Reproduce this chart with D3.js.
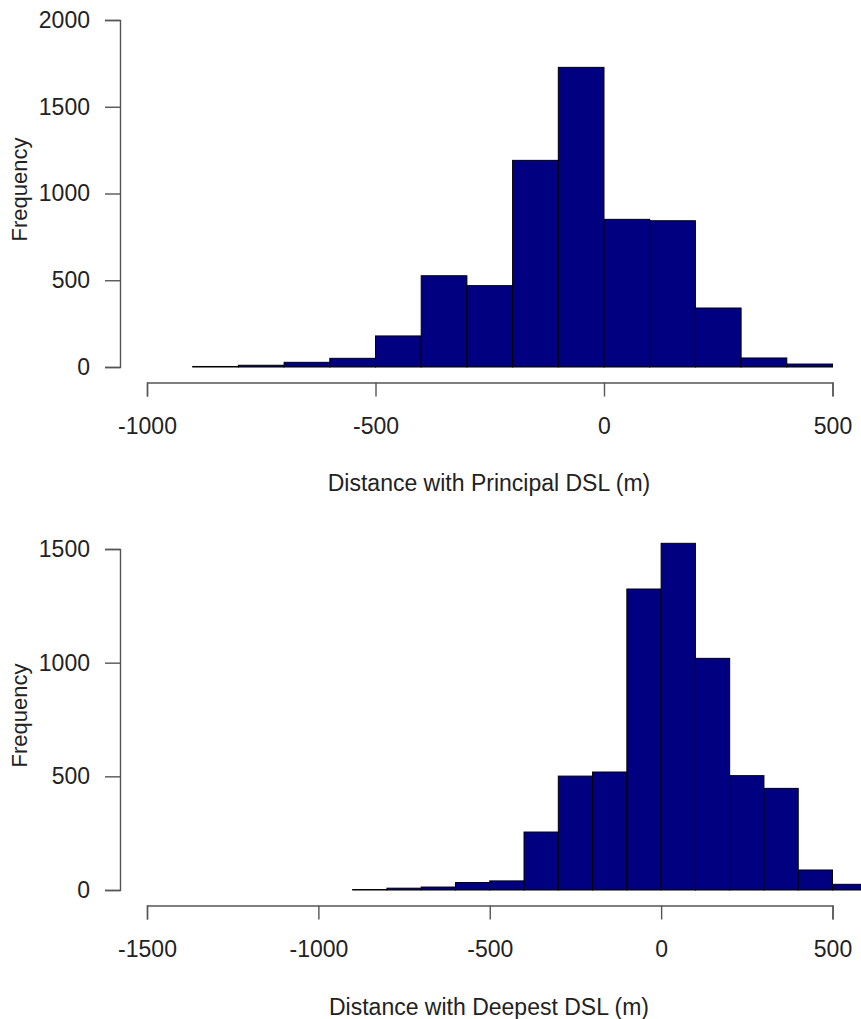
<!DOCTYPE html>
<html>
<head>
<meta charset="utf-8">
<script src="https://cdn.jsdelivr.net/npm/d3@7"></script>
<style>
  body { margin: 0; background: #fff; }
  svg { display: block; font-family: "Liberation Sans", Arial, sans-serif; }
</style>
</head>
<body>
<svg id="chart" width="861" height="1019"></svg>
<script>
// histogram bin edges and counts
const principalBreaks = [-900, -800, -700, -600, -500, -400, -300, -200, -100, 0, 100, 200, 300, 400, 500];
const principalCounts = [3, 10, 27, 50, 179, 526, 469, 1191, 1727, 851, 843, 340, 52, 17];
const principalXTicks = [-1000, -500, 0, 500];
const principalYTicks = [0, 500, 1000, 1500, 2000];

const deepestBreaks = [-900, -800, -700, -600, -500, -400, -300, -200, -100, 0, 100, 200, 300, 400, 500, 600];
const deepestCounts = [2, 8, 13, 33, 40, 255, 501, 519, 1324, 1525, 1019, 503, 447, 88, 25];
const deepestXTicks = [-1500, -1000, -500, 0, 500];
const deepestYTicks = [0, 500, 1000, 1500];

const svg = d3.select('#chart');

// plain numbers like R prints them: no thousands comma, ascii hyphen
const plain = d => String(d);

function drawHist(opts) {
    const x = d3.scaleLinear()
        .domain(d3.extent(opts.xTicks))
        .range([147, 832.5]);
    const y = d3.scaleLinear()
        .domain(d3.extent(opts.yTicks))
        .range([opts.bottom, opts.top]);

    const bins = opts.counts.map((c, i) => ({ x0: opts.breaks[i], x1: opts.breaks[i + 1], n: c }));

    const g = svg.append('g');

    g.selectAll('rect')
        .data(bins)
        .join('rect')
        .attr('x', d => x(d.x0))
        .attr('y', d => y(d.n))
        .attr('width', d => x(d.x1) - x(d.x0))
        .attr('height', d => y(0) - y(d.n))
        .attr('fill', '#000080')
        .attr('stroke', '#000')
        .attr('stroke-width', 1);

    // x axis sits a bit below the bars, R style
    const xAxis = g.append('g')
        .attr('transform', `translate(0,${opts.bottom + 15.5})`)
        .call(d3.axisBottom(x).tickValues(opts.xTicks).tickFormat(plain)
            .tickSizeOuter(0).tickSize(14).tickPadding(21));

    const yAxis = g.append('g')
        .attr('transform', 'translate(120,0)')
        .call(d3.axisLeft(y).tickValues(opts.yTicks).tickFormat(plain)
            .tickSizeOuter(0).tickSize(15).tickPadding(15));

    [xAxis, yAxis].forEach(a => {
        a.select('.domain').attr('stroke', '#555').attr('stroke-width', 1.4);
        a.selectAll('.tick line').attr('stroke', '#555').attr('stroke-width', 1.4);
        a.selectAll('.tick text').attr('fill', '#222').style('font-size', '23px');
    });

    g.append('text')
        .attr('x', 489)
        .attr('y', opts.titleY)
        .attr('text-anchor', 'middle')
        .attr('fill', '#222')
        .style('font-size', '23px')
        .text(opts.title);

    g.append('text')
        .attr('transform', `translate(27,${(opts.top + opts.bottom) / 2 - 4}) rotate(-90)`)
        .attr('text-anchor', 'middle')
        .attr('fill', '#222')
        .style('font-size', '22px')
        .text('Frequency');
}

drawHist({
    breaks: principalBreaks,
    counts: principalCounts,
    xTicks: principalXTicks,
    yTicks: principalYTicks,
    top: 20,
    bottom: 367,
    titleY: 491,
    title: 'Distance with Principal DSL (m)'
});

drawHist({
    breaks: deepestBreaks,
    counts: deepestCounts,
    xTicks: deepestXTicks,
    yTicks: deepestYTicks,
    top: 549,
    bottom: 890,
    titleY: 1015,
    title: 'Distance with Deepest DSL (m)'
});
</script>
</body>
</html>
